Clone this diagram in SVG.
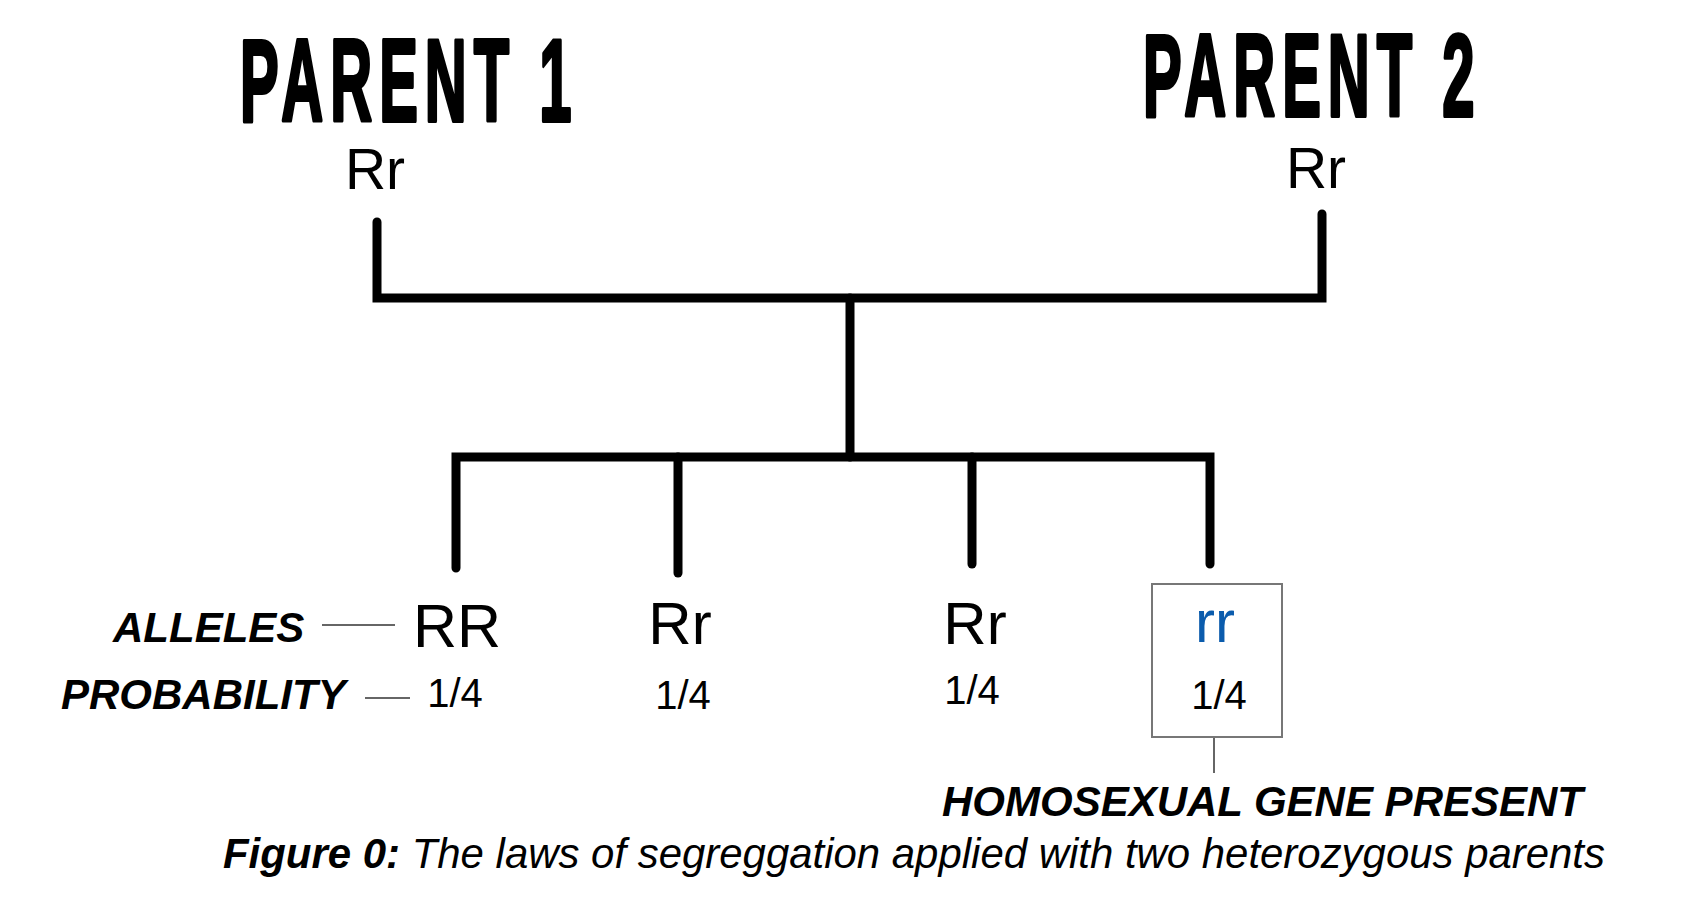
<svg xmlns="http://www.w3.org/2000/svg" width="1684" height="921" viewBox="0 0 1684 921">
<style>
.title{font-family:"Liberation Sans",Arial,sans-serif;font-weight:bold;font-size:116px;letter-spacing:14px;fill:#000;stroke:#000;stroke-width:4;stroke-linejoin:round}
.geno{font-family:"Liberation Sans",Arial,sans-serif;fill:#000}
.lab{font-family:"Liberation Sans",Arial,sans-serif;font-weight:bold;font-style:italic;fill:#000}
.cap{font-family:"Liberation Sans",Arial,sans-serif;font-style:italic;fill:#000}
.tree{stroke:#000;stroke-width:9;fill:none;stroke-linecap:round;stroke-linejoin:miter}
.thin{stroke:#333;stroke-width:1.5;fill:none}
</style>
<rect width="1684" height="921" fill="#fff"/>
<g id="connectors">
<path class="tree" d="M377,222 V298 H1322 V214"/>
<path class="tree" d="M850,298 V457"/>
<path class="tree" d="M456,568 V457 H1210 V564"/>
<path class="tree" d="M678,457 V573"/>
<path class="tree" d="M972,457 V564"/>
<line class="thin" x1="322" y1="625" x2="395" y2="625"/>
<line class="thin" x1="365" y1="698" x2="410" y2="698"/>
<line class="thin" x1="1214" y1="737" x2="1214" y2="773"/>
</g>
<g id="parent1">
<text class="title" transform="translate(240,121) scale(0.5,1)">PARENT 1</text>
<text class="geno" x="375" y="189" font-size="57" text-anchor="middle">Rr</text>
</g>
<g id="parent2">
<text class="title" transform="translate(1143,116) scale(0.5,1)">PARENT 2</text>
<text class="geno" x="1316" y="188" font-size="57" text-anchor="middle">Rr</text>
</g>
<g id="legend">
<text class="lab" x="113" y="642" font-size="42">ALLELES</text>
<text class="lab" x="61" y="709" font-size="42">PROBABILITY</text>
</g>
<g id="child1">
<text class="geno" x="457" y="647" font-size="61" text-anchor="middle">RR</text>
<text class="geno" x="455" y="707" font-size="40" text-anchor="middle">1/4</text>
</g>
<g id="child2">
<text class="geno" x="680" y="644" font-size="60" text-anchor="middle">Rr</text>
<text class="geno" x="683" y="709" font-size="40" text-anchor="middle">1/4</text>
</g>
<g id="child3">
<text class="geno" x="975" y="644" font-size="60" text-anchor="middle">Rr</text>
<text class="geno" x="972" y="704" font-size="40" text-anchor="middle">1/4</text>
</g>
<g id="child4">
<rect x="1152" y="584" width="130" height="153" fill="none" stroke="#777" stroke-width="2"/>
<text class="geno" x="1215" y="642" font-size="60" text-anchor="middle" style="fill:#0b5cad">rr</text>
<text class="geno" x="1219" y="709" font-size="40" text-anchor="middle">1/4</text>
</g>
<g id="note">
<text class="lab" x="942" y="816" font-size="42">HOMOSEXUAL GENE PRESENT</text>
</g>
<g id="caption">
<text class="cap" x="223" y="868" font-size="42" textLength="1382" lengthAdjust="spacingAndGlyphs"><tspan font-weight="bold">Figure 0:</tspan> The laws of segreggation applied with two heterozygous parents</text>
</g>
</svg>
